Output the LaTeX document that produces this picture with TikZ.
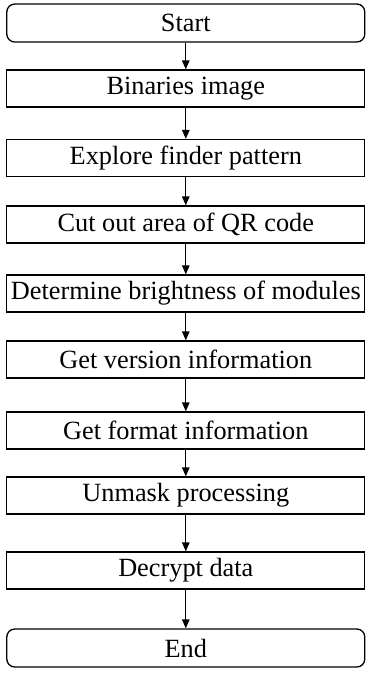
\documentclass[tikz,border=0pt]{standalone}
\usepackage{fontspec}
\setmainfont{Liberation Serif}
\usetikzlibrary{arrows.meta}
\begin{document}
\begin{tikzpicture}[x=1pt,y=-1pt,
  box/.style={draw, line width=1.3pt, minimum width=358pt, minimum height=37pt, inner sep=0pt, font=\fontsize{26.3}{26.3}\selectfont},
  term/.style={box, rounded corners=8pt, minimum height=38pt},
  arr/.style={-{Triangle[length=9pt,width=7.5pt]}, line width=1.3pt}]
\useasboundingbox (0,0) rectangle (366,673);
\node[term] (start) at (185.8,23) {Start};
\node[box] (bin) at (185.8,88.5) {Binaries image};
\node[box] (exp) at (185.8,158) {Explore finder pattern};
\node[box] (cut) at (185.8,224.5) {Cut out area of QR code};
\node[box] (det) at (185.8,293.5) {Determine brightness of modules};
\node[box] (ver) at (185.8,359.5) {Get version information};
\node[box] (fmt) at (185.8,430.5) {Get format information};
\node[box] (unm) at (185.8,495.5) {Unmask processing};
\node[box] (dec) at (185.8,570.5) {Decrypt data};
\node[term] (end) at (185.8,648) {End};
\foreach \a/\b in {start/bin,bin/exp,exp/cut,cut/det,det/ver,ver/fmt,fmt/unm,unm/dec,dec/end}
  \draw[arr] (\a) -- (\b);
\end{tikzpicture}
\end{document}
